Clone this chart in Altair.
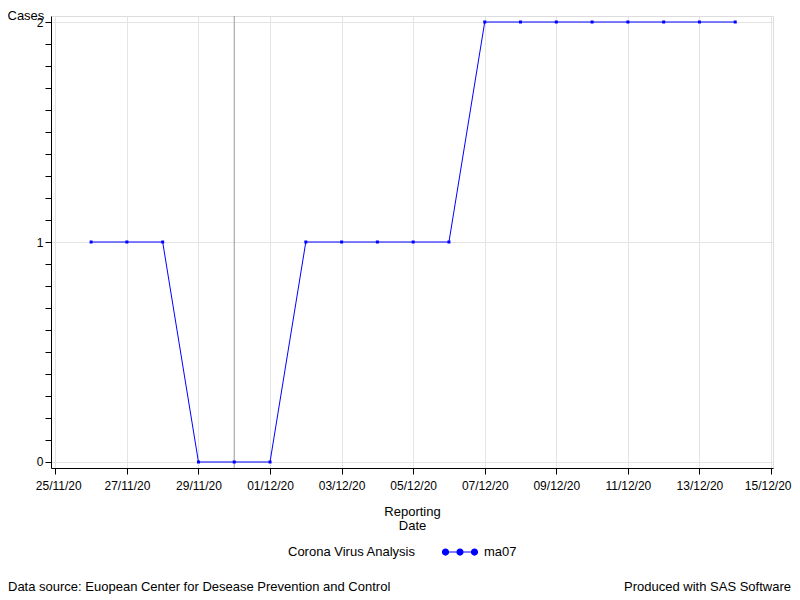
import altair as alt
import pandas as pd

# ---- data ----
dates = ["2020-11-26", "2020-11-27", "2020-11-28", "2020-11-29", "2020-11-30",
         "2020-12-01", "2020-12-02", "2020-12-03", "2020-12-04", "2020-12-05",
         "2020-12-06", "2020-12-07", "2020-12-08", "2020-12-09", "2020-12-10",
         "2020-12-11", "2020-12-12", "2020-12-13", "2020-12-14"]
ma07 = [1, 1, 1, 0, 0, 0, 1, 1, 1, 1, 1, 2, 2, 2, 2, 2, 2, 2, 2]
series_name = "ma07"
x_tick_dates = [(2020, 11, 25), (2020, 11, 27), (2020, 11, 29), (2020, 12, 1),
                (2020, 12, 3), (2020, 12, 5), (2020, 12, 7), (2020, 12, 9),
                (2020, 12, 11), (2020, 12, 13), (2020, 12, 15)]
y_ticks = [round(i / 10, 1) for i in range(21)]
ref_dates = ["2020-11-30"]
legend_title = ["Corona Virus Analysis"]
footnote_left = ["Data source: Euopean Center for Desease Prevention and Control"]
footnote_right = ["Produced with SAS Software"]

df = pd.DataFrame({"date": dates, "ma07": ma07, "series": [series_name] * len(dates)})
ref_df = pd.DataFrame({"date": ref_dates})

FONT = "Liberation Sans"
BLUE = "#0000ff"

x_values = [alt.DateTime(year=y, month=m, date=d, utc=True) for (y, m, d) in x_tick_dates]
x_scale = alt.Scale(
    type="utc",
    nice=False,
    domain=[alt.DateTime(year=2020, month=11, date=24, hours=21, minutes=6, utc=True),
            alt.DateTime(year=2020, month=12, date=15, hours=1, minutes=20, utc=True)],
)
y_scale = alt.Scale(domain=[-0.0273, 2.0273], nice=False, zero=False)

x_axis = alt.Axis(
    values=x_values, format="%d/%m/%y", title=["Reporting", "Date"],
    grid=True, gridColor="#e4e4e4", tickSize=6, labelPadding=6, titlePadding=14,
    domainColor="black", tickColor="black", labelColor="black", titleColor="black",
    labelFontSize=12, titleFontSize=13, titleFontWeight="normal", titleLineHeight=14,
    labelFlush=6, labelFlushOffset=20, labelOverlap=False,
    labelFont=FONT, titleFont=FONT,
)
y_axis = alt.Axis(
    values=y_ticks,
    labelExpr="datum.value % 1 == 0 ? format(datum.value, 'd') : ''",
    grid=True, gridColor="#e4e4e4",
    gridOpacity={"condition": {"test": "datum.value % 1 == 0", "value": 1}, "value": 0},
    tickSize=6, labelPadding=2, labelOverlap=False, labelFlush=False,
    domainColor="black", tickColor="black", labelColor="black",
    labelFontSize=12, labelFont=FONT,
    title="Cases", titleAngle=0, titleAlign="left", titleBaseline="middle",
    titleX=-44, titleY=-1, titleFontSize=13, titleFontWeight="normal",
    titleColor="black", titleFont=FONT,
)

LEGEND_PATH = ("M-0.75,-0.04L-0.25,-0.04L-0.25,0.04L-0.75,0.04Z"
               "M0.25,-0.04L0.75,-0.04L0.75,0.04L0.25,0.04Z"
               "M-1.25,0a0.25,0.25 0 1,0 0.5,0a0.25,0.25 0 1,0 -0.5,0Z"
               "M-0.25,0a0.25,0.25 0 1,0 0.5,0a0.25,0.25 0 1,0 -0.5,0Z"
               "M0.75,0a0.25,0.25 0 1,0 0.5,0a0.25,0.25 0 1,0 -0.5,0Z")

base = alt.Chart(df)

ref = alt.Chart(ref_df).mark_rule(color="#9a9a9a", strokeWidth=1).encode(
    x=alt.X("date:T", scale=x_scale, axis=x_axis)
)

line = base.mark_line(color=BLUE, strokeWidth=1).encode(
    x=alt.X("date:T", scale=x_scale, axis=x_axis),
    y=alt.Y("ma07:Q", scale=y_scale, axis=y_axis),
)

points = base.mark_point(shape="square", filled=True, size=9, opacity=1).encode(
    x=alt.X("date:T", scale=x_scale, axis=x_axis),
    y=alt.Y("ma07:Q", scale=y_scale, axis=y_axis),
    color=alt.Color(
        "series:N",
        scale=alt.Scale(range=[BLUE]),
        legend=alt.Legend(
            title=None, orient="none", legendX=394.5, legendY=521.5,
            direction="horizontal", padding=0,
            symbolType=LEGEND_PATH, symbolSize=841, symbolFillColor=BLUE,
            symbolStrokeWidth=0, symbolOpacity=1,
            labelOffset=9.5, labelFontSize=13, labelFont=FONT, labelColor="black",
        ),
    ),
)

leg_title = alt.Chart(pd.DataFrame({"t": legend_title})).mark_text(
    align="left", baseline="middle", font=FONT, fontSize=13, color="black"
).encode(x=alt.value(237), y=alt.value(536), text="t:N")

note_l = alt.Chart(pd.DataFrame({"t": footnote_left})).mark_text(
    align="left", baseline="middle", font=FONT, fontSize=13, color="black"
).encode(x=alt.value(-43), y=alt.value(571), text="t:N")

note_r = alt.Chart(pd.DataFrame({"t": footnote_right})).mark_text(
    align="right", baseline="middle", font=FONT, fontSize=13, color="black"
).encode(x=alt.value(740), y=alt.value(571), text="t:N")

chart = alt.layer(ref, line, points, leg_title, note_l, note_r).properties(
    width=722, height=452,
    autosize=alt.AutoSizeParams(type="none"),
    padding={"left": 43, "top": 8, "right": 19, "bottom": 126},
).configure_view(stroke="black", strokeWidth=1).configure(font=FONT)

chart.save("out.html", embed_options={"renderer": "svg", "actions": False})
